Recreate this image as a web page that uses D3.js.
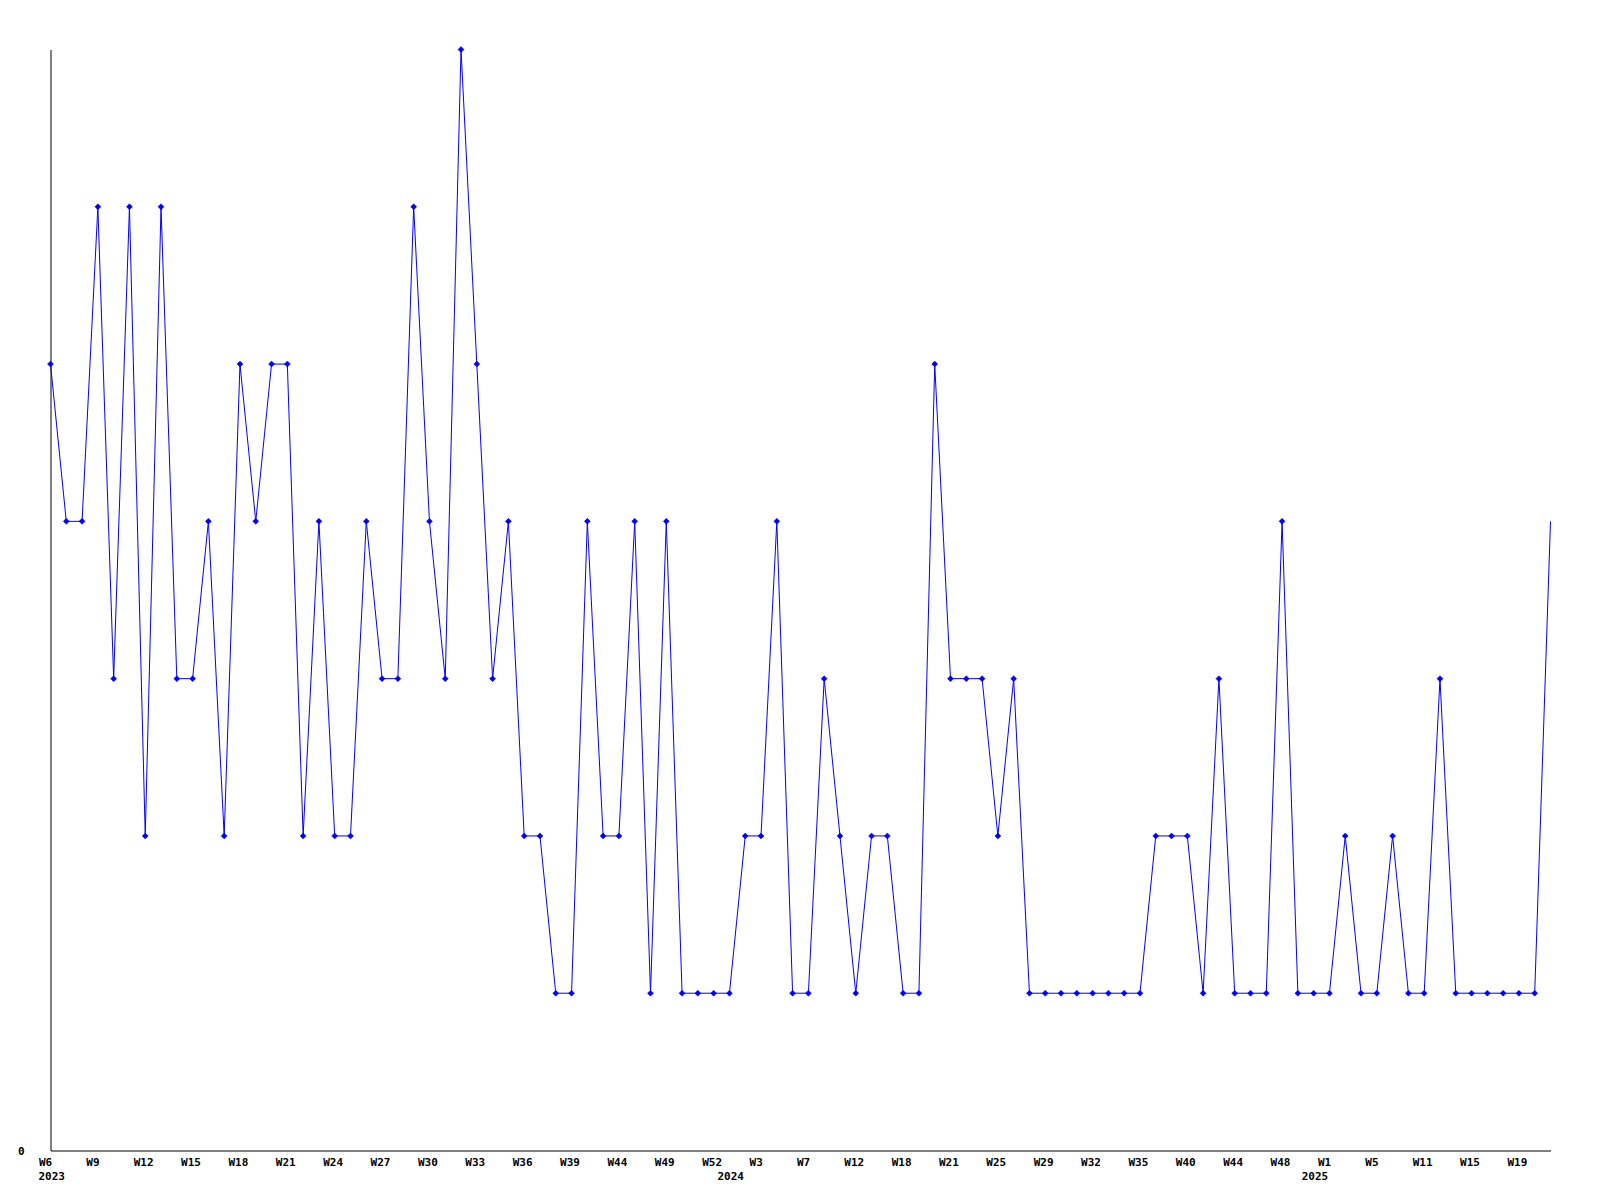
<!DOCTYPE html>
<html>
<head>
<meta charset="utf-8">
<script src="https://cdn.jsdelivr.net/npm/d3@7"></script>
<style>
  html, body { margin: 0; padding: 0; background: #ffffff; }
  svg { display: block; }
  text { font-family: "DejaVu Sans Mono", monospace; font-weight: bold; font-size: 11px; fill: #000; }
</style>
</head>
<body>
<svg id="chart" width="1600" height="1200"></svg>
<script>
// ---- data ----
const weeks = [
  "W6","W7","W8","W9","W10","W11","W12","W13","W14","W15","W16","W17","W18","W19","W20","W21",
  "W22","W23","W24","W25","W26","W27","W28","W29","W30","W31","W32","W33","W34","W35","W36",
  "W37","W38","W39","W41","W42","W44","W46","W47","W49","W50","W51","W52",
  "W1","W2","W3","W5","W6","W7","W9","W10","W12","W14","W16","W18","W19","W20","W21","W23",
  "W24","W25","W27","W28","W29","W30","W31","W32","W33","W34","W35","W37","W38","W40","W42",
  "W43","W44","W45","W47","W48","W50","W52",
  "W1","W2","W4","W5","W7","W9","W11","W12","W14","W15","W16","W18","W19","W20","W21"
];
const values = [
  5,4,4,6,3,6,2,6,3,3,4,2,5,4,5,5,
  2,4,2,2,4,3,3,6,4,3,7,5,3,4,2,
  2,1,1,4,2,2,4,1,4,1,1,1,
  1,2,2,4,1,1,3,2,1,2,2,1,1,5,3,3,
  3,2,3,1,1,1,1,1,1,1,1,2,2,2,1,
  3,1,1,1,4,1,1,
  1,2,1,1,2,1,1,3,1,1,1,1,1,1,4
];
const tickEvery = 3;
const yTickValues = [0];
const yearLabels = ["2023","2024","2025"];
const yearStartIndex = [0, 43, 80];
const yMax = 7;

// ---- layout ----
const svg = d3.select("#chart");
const plotLeft = 50.5, plotRight = 1550.5, plotTop = 49.5, plotBottom = 1150.5;

const idx = d3.range(values.length);
const x = d3.scalePoint().domain(idx).range([plotLeft, plotRight]);
const y = d3.scaleLinear().domain([0, yMax]).range([plotBottom, plotTop]);

// x axis
const xAxis = d3.axisBottom(x)
  .tickValues(idx.filter(i => i % tickEvery === 0))
  .tickFormat(i => weeks[i])
  .tickSize(0).tickSizeOuter(0);
const gx = svg.append("g").attr("transform", `translate(0,${plotBottom})`).call(xAxis);
gx.select(".domain").attr("stroke", "#000").attr("stroke-width", 1);
gx.selectAll(".tick text")
  .attr("text-anchor", "start").attr("x", -12).attr("y", 15.5).attr("dy", 0)
  .style("font-family", "'DejaVu Sans Mono', monospace").style("font-weight", "bold").style("font-size", "11px").attr("fill", "#000");

// year labels
svg.append("g").selectAll("text")
  .data(yearLabels)
  .join("text")
  .attr("x", (d, k) => x(yearStartIndex[k]) - 12)
  .attr("y", plotBottom + 29.5)
  .attr("text-anchor", "start")
  .text(d => d);

// y axis
const yAxis = d3.axisLeft(y).tickValues(yTickValues).tickFormat(d3.format("d")).tickSize(0).tickSizeOuter(0);
const gy = svg.append("g").attr("transform", `translate(${plotLeft},0)`).call(yAxis);
gy.select(".domain").attr("stroke", "#000").attr("stroke-width", 1);
gy.selectAll(".tick text")
  .attr("x", -26).attr("dy", "0.32em")
  .style("font-family", "'DejaVu Sans Mono', monospace").style("font-weight", "bold").style("font-size", "11px").attr("fill", "#000");

// line
const line = d3.line().x((d, i) => x(i)).y(d => y(d));
svg.append("path")
  .datum(values)
  .attr("fill", "none")
  .attr("stroke", "#0000ff")
  .attr("stroke-width", 1)
  .attr("d", line);

// markers (last point has no visible marker in the reference)
const diamond = "M0,-3L3,0L0,3L-3,0Z";
svg.append("g").selectAll("path")
  .data(values.slice(0, -1))
  .join("path")
  .attr("d", diamond)
  .attr("transform", (d, i) => `translate(${x(i)},${y(d)})`)
  .attr("fill", "#0000ff")
  .attr("stroke", "#0000ff")
  .attr("stroke-width", 0.5);
</script>
</body>
</html>
